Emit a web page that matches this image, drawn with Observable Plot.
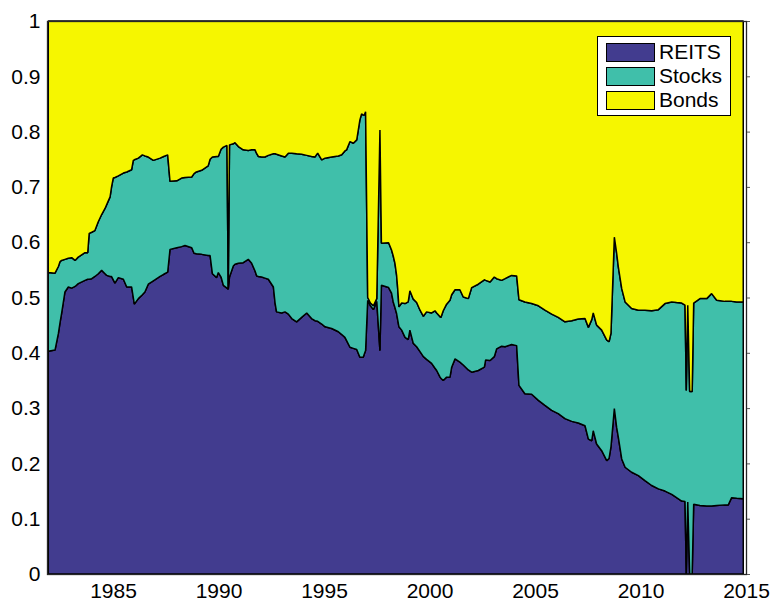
<!DOCTYPE html>
<html>
<head>
<meta charset="utf-8">
<script src="https://cdn.jsdelivr.net/npm/d3@7"></script>
<script src="https://cdn.jsdelivr.net/npm/@observablehq/plot@0.6"></script>
<style>
  html, body { margin: 0; padding: 0; background: #fff; }
  #wrap { position: relative; width: 772px; height: 601px; font-family: "Liberation Sans", Arial, Helvetica, sans-serif; }
  #legend { position: absolute; left: 597px; top: 36px; width: 132px; height: 78px; background: #fff; border: 1px solid #000; }
  .row { position: absolute; left: 0; height: 24px; width: 132px; }
  .sw { position: absolute; left: 8px; top: 0; width: 47px; height: 17px; border: 1px solid #000; }
  .lb { position: absolute; left: 61px; top: -3px; font-size: 21px; line-height: 24px; color: #000; }
</style>
</head>
<body>
<div id="wrap"></div>
<script>
const years = [1981.93,1982.25,1982.41,1982.49,1982.56,1982.72,1982.88,1983.04,1983.20,1983.35,1983.67,1983.80,1983.87,1983.99,1984.14,1984.30,1984.46,1984.62,1984.70,1984.86,1984.93,1985.01,1985.09,1985.25,1985.49,1985.65,1985.88,1985.96,1986.01,1986.20,1986.39,1986.51,1986.67,1986.91,1987.23,1987.40,1987.59,1987.70,1988.02,1988.25,1988.41,1988.73,1988.84,1988.95,1989.20,1989.51,1989.60,1989.71,1989.91,1989.99,1990.12,1990.23,1990.40,1990.46,1990.52,1990.70,1990.78,1990.94,1991.17,1991.41,1991.57,1991.73,1991.81,1991.89,1992.04,1992.20,1992.36,1992.60,1992.68,1992.75,1992.99,1993.15,1993.31,1993.47,1993.70,1993.94,1994.18,1994.41,1994.57,1994.70,1994.89,1995.05,1995.36,1995.68,1995.84,1995.99,1996.07,1996.23,1996.39,1996.55,1996.70,1996.78,1996.86,1996.91,1996.97,1997.07,1997.20,1997.34,1997.50,1997.65,1997.72,1998.06,1998.20,1998.28,1998.36,1998.44,1998.49,1998.55,1998.68,1998.84,1998.99,1999.07,1999.23,1999.39,1999.55,1999.71,1999.86,2000.10,2000.26,2000.34,2000.50,2000.54,2000.65,2000.81,2000.97,2001.05,2001.21,2001.44,2001.60,2001.84,2002.00,2002.31,2002.60,2002.66,2002.87,2003.07,2003.18,2003.42,2003.58,2003.89,2004.13,2004.24,2004.52,2004.84,2005.16,2005.47,2005.79,2006.10,2006.42,2006.74,2007.05,2007.37,2007.53,2007.69,2007.76,2007.92,2008.16,2008.40,2008.51,2008.60,2008.76,2008.87,2008.95,2009.11,2009.27,2009.58,2009.90,2010.21,2010.53,2010.85,2011.16,2011.48,2011.71,2011.95,2012.11,2012.17,2012.24,2012.33,2012.45,2012.52,2012.82,2013.14,2013.37,2013.61,2014.00,2014.16,2014.32,2014.56,2014.87];

const reits = [.403,.405,.435,.455,.471,.510,.519,.517,.520,.525,.531,.533,.533,.534,.538,.543,.549,.543,.540,.538,.538,.532,.526,.536,.533,.519,.519,.500,.488,.498,.505,.510,.524,.530,.538,.542,.546,.587,.590,.592,.594,.590,.580,.579,.578,.576,.576,.543,.536,.545,.537,.522,.517,.515,.537,.557,.560,.562,.563,.569,.562,.548,.539,.538,.537,.535,.533,.519,.490,.474,.472,.474,.470,.462,.456,.464,.472,.462,.458,.457,.452,.447,.444,.438,.433,.428,.422,.410,.408,.406,.392,.392,.392,.398,.404,.495,.485,.478,.493,.404,.522,.518,.508,.492,.482,.471,.460,.447,.441,.428,.424,.441,.417,.411,.402,.393,.388,.381,.372,.368,.356,.354,.350,.356,.356,.374,.389,.383,.378,.369,.365,.368,.374,.387,.386,.393,.407,.412,.411,.415,.413,.341,.326,.325,.314,.305,.296,.290,.281,.276,.273,.268,.244,.241,.259,.235,.223,.205,.209,.230,.299,.265,.247,.208,.193,.184,.178,.169,.160,.154,.150,.144,.138,.132,.131,.000,.130,.000,.000,.126,.124,.123,.123,.124,.125,.125,.138,.137,.136];

const stocks = [.142,.139,.121,.110,.096,.059,.052,.055,.047,.048,.050,.048,.083,.084,.083,.094,.101,.118,.128,.144,.162,.184,.191,.184,.192,.208,.212,.248,.261,.254,.253,.246,.230,.218,.214,.213,.212,.123,.121,.124,.123,.128,.144,.148,.152,.162,.174,.211,.219,.210,.231,.250,.258,.000,.239,.221,.220,.211,.204,.197,.205,.219,.221,.217,.217,.219,.224,.241,.270,.285,.284,.280,.291,.299,.304,.295,.285,.293,.296,.304,.297,.305,.310,.318,.325,.337,.345,.372,.371,.379,.429,.440,.438,.432,.432,.005,.005,.007,.005,.399,.076,.081,.078,.083,.080,.069,.057,.036,.049,.061,.068,.071,.080,.080,.075,.073,.086,.091,.104,.104,.109,.110,.126,.132,.139,.131,.125,.131,.123,.129,.153,.156,.158,.144,.142,.144,.127,.119,.123,.125,.126,.155,.166,.164,.171,.172,.174,.174,.175,.182,.188,.194,.202,.219,.213,.215,.218,.218,.211,.205,.310,.315,.308,.308,.299,.296,.299,.308,.316,.324,.339,.348,.353,.358,.355,.332,.356,.330,.330,.364,.374,.375,.384,.371,.368,.368,.355,.355,.356];

const bonds = [.455,.456,.444,.435,.433,.431,.429,.428,.433,.427,.419,.419,.384,.382,.379,.363,.350,.339,.332,.318,.300,.284,.283,.280,.275,.273,.269,.252,.251,.248,.242,.244,.246,.252,.248,.245,.242,.290,.289,.284,.283,.282,.276,.273,.270,.262,.250,.246,.245,.245,.232,.228,.225,.485,.224,.222,.220,.227,.233,.234,.233,.233,.240,.245,.246,.246,.243,.240,.240,.241,.244,.246,.239,.239,.240,.241,.243,.245,.246,.239,.251,.248,.246,.244,.242,.235,.233,.218,.221,.215,.179,.168,.170,.170,.164,.500,.510,.515,.502,.197,.402,.401,.414,.425,.438,.460,.483,.517,.510,.511,.508,.488,.503,.509,.523,.534,.526,.528,.524,.528,.535,.536,.524,.512,.505,.495,.486,.486,.499,.502,.482,.476,.468,.469,.472,.463,.466,.469,.466,.460,.461,.504,.508,.511,.515,.523,.530,.536,.544,.542,.539,.538,.554,.540,.528,.550,.559,.577,.580,.565,.391,.420,.445,.484,.508,.520,.523,.523,.524,.522,.511,.508,.509,.510,.514,.668,.514,.670,.670,.510,.502,.502,.493,.505,.507,.507,.507,.508,.508];

const seriesNames = ["REITS", "Stocks", "Bonds"];
const seriesColors = ["#423c8f", "#40bfaa", "#f6f600"];
const xTicks = [1985, 1990, 1995, 2000, 2005, 2010, 2015];
const yTicks = [0, 0.1, 0.2, 0.3, 0.4, 0.5, 0.6, 0.7, 0.8, 0.9, 1];

const seriesValues = [reits, stocks, bonds];
const data = seriesNames.flatMap((s, k) =>
  years.map((t, i) => ({year: t, series: s, value: seriesValues[k][i]})));

const chart = Plot.plot({
  width: 772,
  height: 601,
  marginLeft: 47,
  marginRight: 26,
  marginTop: 21,
  marginBottom: 27,
  style: {fontFamily: '"Liberation Sans", Arial, Helvetica, sans-serif', fontSize: "21px", color: "#000", background: "#fff", overflow: "visible"},
  x: {domain: [1981.87, 2015]},
  y: {domain: [0, 1]},
  color: {domain: seriesNames, range: seriesColors},
  marks: [
    Plot.areaY(data, {x: "year", y: "value", z: "series", fill: "series", order: seriesNames, stroke: "#000", strokeWidth: 1.5, strokeLinejoin: "miter"}),
    Plot.frame({stroke: "#262626", strokeWidth: 1.3}),
    Plot.axisX({ticks: xTicks, tickFormat: "d", tickSize: 0, tickPadding: 9, label: null, fontSize: 21}),
    Plot.axisY({ticks: yTicks, tickFormat: d => String(d), tickSize: 0, tickPadding: 7, label: null, fontSize: 21}),
    Plot.axisY({ticks: yTicks, anchor: "right", tickSize: 3, tickFormat: () => "", label: null, stroke: "#555"})
  ]
});

const wrap = document.getElementById("wrap");
wrap.appendChild(chart);

const legend = document.createElement("div");
legend.id = "legend";
seriesNames.forEach((s, i) => {
  const row = document.createElement("div");
  row.className = "row";
  row.style.top = (6 + i * 24) + "px";
  const sw = document.createElement("div");
  sw.className = "sw";
  sw.style.background = seriesColors[i];
  const lb = document.createElement("div");
  lb.className = "lb";
  lb.textContent = s;
  row.appendChild(sw);
  row.appendChild(lb);
  legend.appendChild(row);
});
wrap.appendChild(legend);
</script>
</body>
</html>
